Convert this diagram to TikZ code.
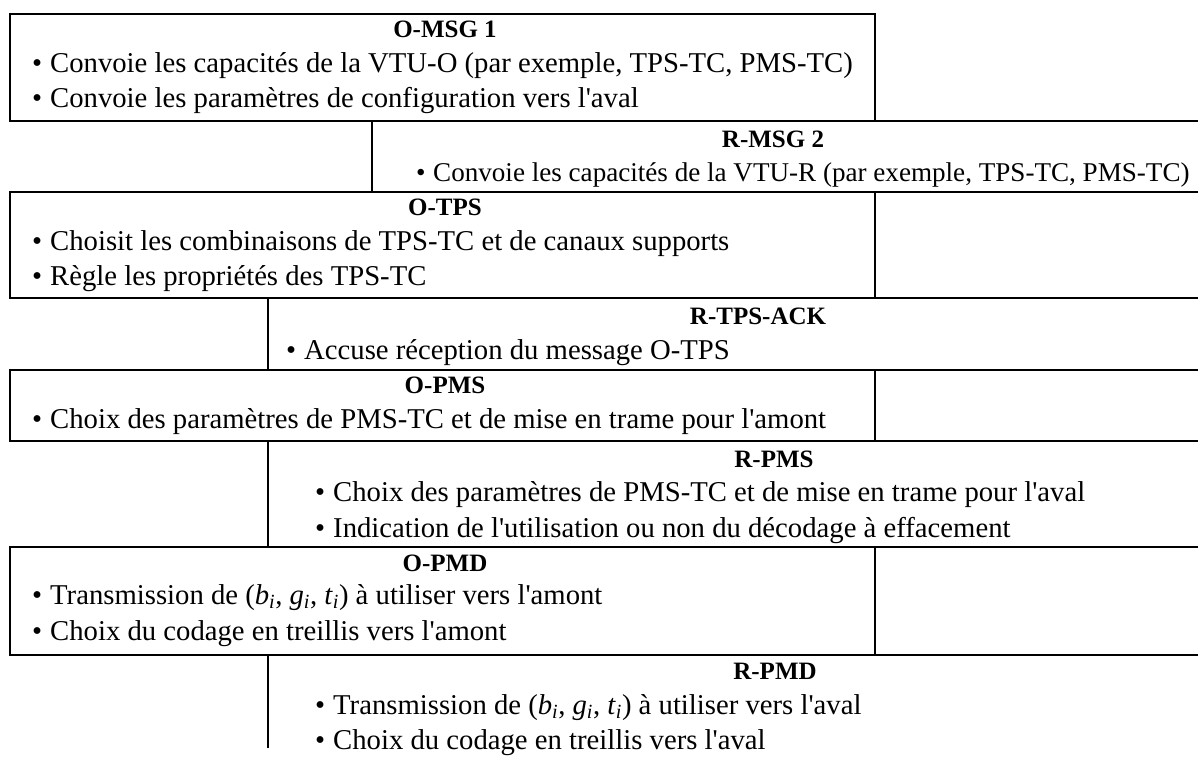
\documentclass[tikz,border=0pt]{standalone}
\usepackage{fontspec}
\setmainfont{Liberation Serif}
\newcommand\mybullet{\makebox[18pt][l]{•}}
\newcommand\apos{\textquotesingle}
\begin{document}
\begin{tikzpicture}[x=1pt,y=-1pt,
  rule/.style={line width=2pt},
  hdr/.style={anchor=base, inner sep=0pt, font=\fontsize{25}{30}\selectfont\bfseries},
  txt/.style={anchor=base west, inner sep=0pt, font=\fontsize{28.7}{34}\selectfont},
  txtn/.style={txt, font=\fontsize{27.1}{32}\selectfont}]
\useasboundingbox (0,0) rectangle (1198,756);
% ---- lines ----
\draw[rule] (10,121) -- (10,14) -- (875,14) -- (875,121);
\draw[rule] (9,121) -- (1198,121);
\draw[rule] (372,121) -- (372,192);
\draw[rule] (9,192) -- (1198,192);
\draw[rule] (10,192) -- (10,298);
\draw[rule] (875,192) -- (875,298);
\draw[rule] (9,298) -- (1198,298);
\draw[rule] (268,298) -- (268,370);
\draw[rule] (9,370) -- (1198,370);
\draw[rule] (10,370) -- (10,441);
\draw[rule] (875,370) -- (875,441);
\draw[rule] (9,441) -- (1198,441);
\draw[rule] (268,441) -- (268,547);
\draw[rule] (9,547) -- (1198,547);
\draw[rule] (10,547) -- (10,655);
\draw[rule] (875,547) -- (875,655);
\draw[rule] (9,655) -- (1198,655);
\draw[rule] (268,655) -- (268,748);
% ---- O-MSG 1 ----
\node[hdr] (omsgh) at (445,37) {O-MSG 1};
\node[txt] (omsga) at (32,72) {\mybullet Convoie les capacités de la VTU-O (par exemple, TPS-TC, PMS-TC)};
\node[txt] (omsgb) at (32,107) {\mybullet Convoie les paramètres de configuration vers l\apos aval};
% ---- R-MSG 2 ----
\node[hdr] (rmsgh) at (773,147) {R-MSG 2};
\node[txtn] (rmsga) at (416,181) {\makebox[17pt][l]{•}Convoie les capacités de la VTU-R (par exemple, TPS-TC, PMS-TC)};
% ---- O-TPS ----
\node[hdr] (otpsh) at (445,215) {O-TPS};
\node[txt] (otpsa) at (32,250) {\mybullet Choisit les combinaisons de TPS-TC et de canaux supports};
\node[txt] (otpsb) at (32,285) {\mybullet Règle les propriétés des TPS-TC};
% ---- R-TPS-ACK ----
\node[hdr] (rtpsh) at (758,324) {R-TPS-ACK};
\node[txt] (rtpsa) at (286,359) {\mybullet Accuse réception du message O-TPS};
% ---- O-PMS ----
\node[hdr] (opmsh) at (445,393) {O-PMS};
\node[txt] (opmsa) at (32,428) {\mybullet Choix des paramètres de PMS-TC et de mise en trame pour l\apos amont};
% ---- R-PMS ----
\node[hdr] (rpmsh) at (774,467) {R-PMS};
\node[txt] (rpmsa) at (315,501) {\mybullet Choix des paramètres de PMS-TC et de mise en trame pour l\apos aval};
\node[txt] (rpmsb) at (315,537) {\mybullet Indication de l\apos utilisation ou non du décodage à effacement};
% ---- O-PMD ----
\node[hdr] (opmdh) at (445,571) {O-PMD};
\node[txt] (opmda) at (32,604) {\mybullet Transmission de (\textit{b}\textsubscript{\textit{i}}, \textit{g}\textsubscript{\textit{i}}, \textit{t}\textsubscript{\textit{i}}) à utiliser vers l\apos amont};
\node[txt] (opmdb) at (32,640) {\mybullet Choix du codage en treillis vers l\apos amont};
% ---- R-PMD ----
\node[hdr] (rpmdh) at (775,679) {R-PMD};
\node[txt] (rpmda) at (315,714) {\mybullet Transmission de (\textit{b}\textsubscript{\textit{i}}, \textit{g}\textsubscript{\textit{i}}, \textit{t}\textsubscript{\textit{i}}) à utiliser vers l\apos aval};
\node[txt] (rpmdb) at (315,749) {\mybullet Choix du codage en treillis vers l\apos aval};
\end{tikzpicture}
\end{document}
